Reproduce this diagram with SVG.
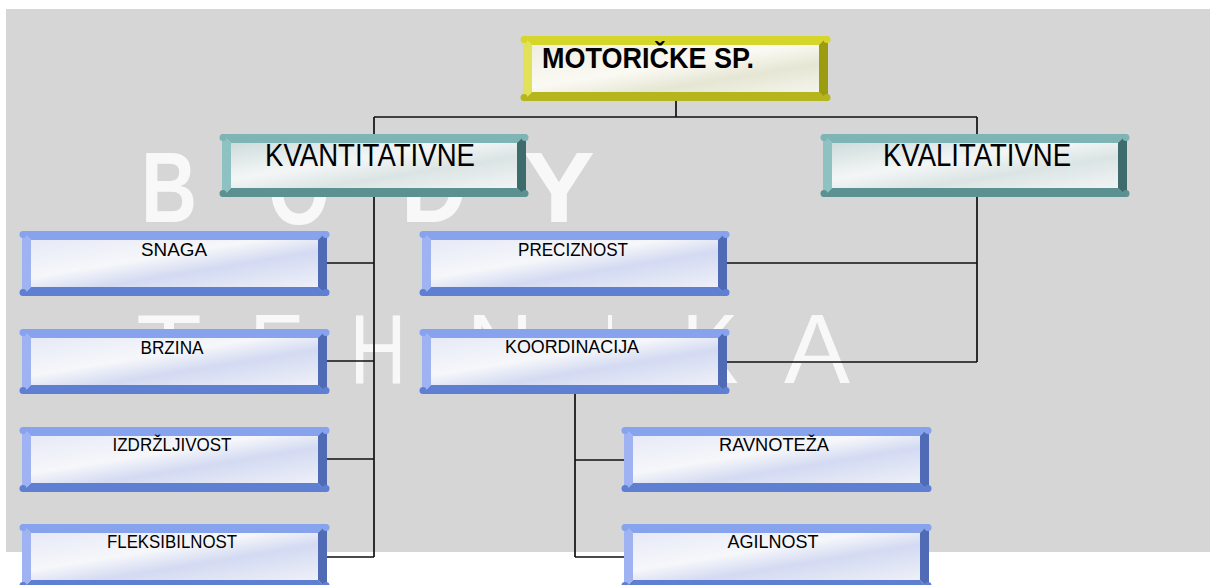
<svg xmlns="http://www.w3.org/2000/svg" xmlns:xlink="http://www.w3.org/1999/xlink" width="1210" height="585" viewBox="0 0 1210 585">
<style>
.wm{fill:#ffffff;opacity:0.85;font-family:"Liberation Sans",Arial,sans-serif;text-anchor:middle}
.wmb{font-size:100px;font-weight:bold}
.wmt{font-size:98px}
.lbl{font-family:"Liberation Sans",Arial,sans-serif;fill:#000;font-size:19px;text-anchor:middle}
.big{font-family:"Liberation Sans",Arial,sans-serif;fill:#000;font-size:31px}
.title{font-family:"Liberation Sans",Arial,sans-serif;fill:#000;font-size:29px;font-weight:bold}
.conn{fill:none;stroke:#111;stroke-width:1.7}
.bt{fill:#87a3ee}.bl{fill:#9fb3f3}.br{fill:#4f6bb6}.bb{fill:#5f7fd2}
.tt{fill:#7fb4b4}.tl{fill:#8ec2c2}.tr{fill:#3e6b6b}.tb{fill:#5b9191}
.yt{fill:#d6d62a}.yl{fill:#e2e25a}.yr{fill:#9c9c10}.yb{fill:#b5b51e}
</style>
<defs>
<linearGradient id="gB" x1="0" y1="0" x2="1" y2="1">
<stop offset="0" stop-color="#e6eaf7"/><stop offset="0.4" stop-color="#f6f7fa"/><stop offset="0.62" stop-color="#d3daf2"/><stop offset="1" stop-color="#eef0f8"/>
</linearGradient>
<linearGradient id="gT" x1="0" y1="0" x2="1" y2="1">
<stop offset="0" stop-color="#cfdcdc"/><stop offset="0.4" stop-color="#f4f6f6"/><stop offset="0.65" stop-color="#dbe4e4"/><stop offset="1" stop-color="#f2f4f4"/>
</linearGradient>
<linearGradient id="gY" x1="0" y1="0" x2="1" y2="1">
<stop offset="0" stop-color="#eeeee0"/><stop offset="0.45" stop-color="#fafaf4"/><stop offset="0.7" stop-color="#e6e6d4"/><stop offset="1" stop-color="#f4f4ec"/>
</linearGradient>
<g id="blueBox">
<rect x="9" y="9" width="287" height="47" fill="url(#gB)"/>
<polygon class="bt" points="0,0 305,0 296,9 9,9"/>
<polygon class="bb" points="0,65 305,65 296,56 9,56"/>
<polygon class="bl" points="0,0 9,9 9,56 0,65"/>
<polygon class="br" points="305,0 296,9 296,56 305,65"/>
<circle class="bt" cx="1" cy="3.5" r="3.5"/><circle class="bt" cx="304" cy="3.5" r="3.5"/>
<circle class="bb" cx="1" cy="61.5" r="3.5"/><circle class="bb" cx="304" cy="61.5" r="3.5"/>
</g>
<g id="tealBox">
<rect x="9" y="9" width="286" height="45" fill="url(#gT)"/>
<polygon class="tt" points="0,0 304,0 295,9 9,9"/>
<polygon class="tb" points="0,63 304,63 295,54 9,54"/>
<polygon class="tl" points="0,0 9,9 9,54 0,63"/>
<polygon class="tr" points="304,0 295,9 295,54 304,63"/>
<circle class="tt" cx="1" cy="3.5" r="3.5"/><circle class="tt" cx="303" cy="3.5" r="3.5"/>
<circle class="tb" cx="1" cy="59.5" r="3.5"/><circle class="tb" cx="303" cy="59.5" r="3.5"/>
</g>
<g id="yellowBox">
<rect x="9" y="9" width="287" height="47" fill="url(#gY)"/>
<polygon class="yt" points="0,0 305,0 296,9 9,9"/>
<polygon class="yb" points="0,65 305,65 296,56 9,56"/>
<polygon class="yl" points="0,0 9,9 9,56 0,65"/>
<polygon class="yr" points="305,0 296,9 296,56 305,65"/>
<circle class="yt" cx="1" cy="3.5" r="3.5"/><circle class="yt" cx="304" cy="3.5" r="3.5"/>
<circle class="yb" cx="1" cy="61.5" r="3.5"/><circle class="yb" cx="304" cy="61.5" r="3.5"/>
</g>
</defs>
<rect width="1210" height="585" fill="#ffffff"/>
<rect x="6" y="9" width="1204" height="543" fill="#d6d6d6"/>
<g id="watermark">
<text class="wm wmb" x="169" y="222" textLength="56" lengthAdjust="spacingAndGlyphs">B</text>
<text class="wm wmb" x="299" y="224" textLength="62" lengthAdjust="spacingAndGlyphs">O</text>
<text class="wm wmb" x="434" y="222" textLength="66" lengthAdjust="spacingAndGlyphs">D</text>
<text class="wm wmb" x="559" y="222" textLength="72" lengthAdjust="spacingAndGlyphs">Y</text>
<text class="wm wmt" x="169" y="383" textLength="66" lengthAdjust="spacingAndGlyphs">T</text>
<text class="wm wmt" x="277" y="383" textLength="55" lengthAdjust="spacingAndGlyphs">E</text>
<text class="wm wmt" x="378" y="383" textLength="57" lengthAdjust="spacingAndGlyphs">H</text>
<text class="wm wmt" x="500" y="383" textLength="67" lengthAdjust="spacingAndGlyphs">N</text>
<text class="wm wmt" x="610" y="383" textLength="12" lengthAdjust="spacingAndGlyphs">I</text>
<text class="wm wmt" x="710" y="383" textLength="57" lengthAdjust="spacingAndGlyphs">K</text>
<text class="wm wmt" x="817" y="383" textLength="66" lengthAdjust="spacingAndGlyphs">A</text>
</g>
<g id="connectors">
<path class="conn" d="M676 101V117M374 117H977M374 117V134M977 117V134"/>
<path class="conn" d="M374 197V557M327 263H374M327 361H374M327 459H374M327 557H374"/>
<path class="conn" d="M977 197V362M727 263H977M727 362H977"/>
<path class="conn" d="M575 394V557M575 460H624M575 557H624"/>
</g>
<g id="n-motoricke">
<use xlink:href="#yellowBox" transform="translate(523,36)"/>
<text class="title" x="542" y="68" textLength="212" lengthAdjust="spacingAndGlyphs">MOTORIČKE SP.</text>
</g>
<g id="n-kvantitativne">
<use xlink:href="#tealBox" transform="translate(222,134)"/>
<text class="big" x="265" y="166" textLength="210" lengthAdjust="spacingAndGlyphs">KVANTITATIVNE</text>
</g>
<g id="n-kvalitativne">
<use xlink:href="#tealBox" transform="translate(823,134)"/>
<text class="big" x="883" y="166" textLength="188" lengthAdjust="spacingAndGlyphs">KVALITATIVNE</text>
</g>
<g id="n-snaga">
<use xlink:href="#blueBox" transform="translate(22,231)"/>
<text class="lbl" x="174" y="256" textLength="66" lengthAdjust="spacingAndGlyphs">SNAGA</text>
</g>
<g id="n-brzina">
<use xlink:href="#blueBox" transform="translate(22,329)"/>
<text class="lbl" x="172" y="354" textLength="63" lengthAdjust="spacingAndGlyphs">BRZINA</text>
</g>
<g id="n-izdrzljivost">
<use xlink:href="#blueBox" transform="translate(22,427)"/>
<text class="lbl" x="172" y="451" textLength="119" lengthAdjust="spacingAndGlyphs">IZDRŽLJIVOST</text>
</g>
<g id="n-fleksibilnost">
<use xlink:href="#blueBox" transform="translate(22,524)"/>
<text class="lbl" x="172" y="548" textLength="130" lengthAdjust="spacingAndGlyphs">FLEKSIBILNOST</text>
</g>
<g id="n-preciznost">
<use xlink:href="#blueBox" transform="translate(422,231)"/>
<text class="lbl" x="573" y="256" textLength="110" lengthAdjust="spacingAndGlyphs">PRECIZNOST</text>
</g>
<g id="n-koordinacija">
<use xlink:href="#blueBox" transform="translate(422,329)"/>
<text class="lbl" x="572" y="353" textLength="134" lengthAdjust="spacingAndGlyphs">KOORDINACIJA</text>
</g>
<g id="n-ravnoteza">
<use xlink:href="#blueBox" transform="translate(624,427)"/>
<text class="lbl" x="774" y="451" textLength="110" lengthAdjust="spacingAndGlyphs">RAVNOTEŽA</text>
</g>
<g id="n-agilnost">
<use xlink:href="#blueBox" transform="translate(624,524)"/>
<text class="lbl" x="773" y="548" textLength="91" lengthAdjust="spacingAndGlyphs">AGILNOST</text>
</g>
</svg>
